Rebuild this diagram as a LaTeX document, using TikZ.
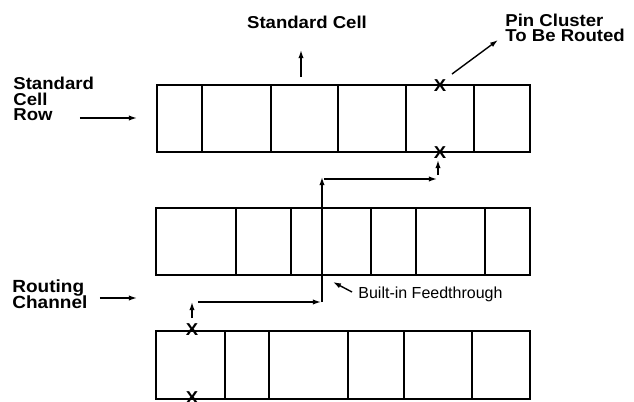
\documentclass[tikz,border=0pt]{standalone}
\usepackage{fontspec}
\setmainfont{Liberation Sans}
\newfontfamily\lblfont{Liberation Sans}[FakeStretch=1.08]
\usetikzlibrary{arrows.meta}
\begin{document}
\begin{tikzpicture}[x=0.5pt,y=-0.5pt,
  cellrow/.style={draw,line width=0.85pt},
  conn/.style={line width=0.7pt,-{Latex[length=4pt,width=2.6pt]}},
  lbl/.style={font=\lblfont\bfseries\fontsize{8.6}{7.75}\selectfont,align=left,inner sep=0pt},
  pinlbl/.style={font=\lblfont\bfseries\fontsize{8.6}{7.1}\selectfont,align=left,inner sep=0pt},
  chlbl/.style={font=\lblfont\bfseries\fontsize{8.8}{8.4}\selectfont,align=left,inner sep=0pt},
  xmark/.style={font=\lblfont\bfseries\fontsize{8.6}{8.6}\selectfont,inner sep=0pt},
  small/.style={font=\fontsize{8}{8}\selectfont,inner sep=0pt}]
\useasboundingbox (0,0) rectangle (634,402);

% rows of standard cells
\draw[cellrow] (157,85) rectangle (530,152);
\foreach \x in {202,271,338,406,474} \draw[cellrow] (\x,85) -- (\x,152);
\draw[cellrow] (156,208) rectangle (530,275);
\foreach \x in {236,291,371,416,485} \draw[cellrow] (\x,208) -- (\x,275);
\draw[cellrow] (156,331) rectangle (530,399);
\foreach \x in {225,269,348,404,472} \draw[cellrow] (\x,331) -- (\x,399);

% pins
\node[xmark] (xa) at (440,86) {X};
\node[xmark] (xb) at (440,153) {X};
\node[xmark] (xc) at (192,330) {X};
\node[xmark] (xd) at (192,398) {X};

% labels
\node[lbl,anchor=north] (sc) at (307,16) {Standard Cell};
\node[pinlbl,anchor=north west] (pc) at (505,14) {Pin Cluster\\To Be Routed};
\node[lbl,anchor=north west] (scr) at (13,77) {Standard\\Cell\\Row};
\node[chlbl,anchor=north west] (rc) at (12,279) {Routing\\Channel};
\node[small,anchor=base west] (bf) at (358,298) {Built-in Feedthrough};

% label arrows
\coordinate (scA) at (301,77); \coordinate (scB) at (301,50);
\draw[conn] (scA) -- (scB);
\coordinate (pcA) at (452,74); \coordinate (pcB) at (498,40);
\draw[conn] (pcA) -- (pcB);
\coordinate (srA) at (80,118); \coordinate (srB) at (137,118);
\draw[conn] (srA) -- (srB);
\coordinate (rcA) at (100,298); \coordinate (rcB) at (137,298);
\draw[conn] (rcA) -- (rcB);
\coordinate (bfA) at (352,292); \coordinate (bfB) at (333,282);
\draw[conn] (bfA) -- (bfB);

% route
\coordinate (r1) at (192,318); \coordinate (r2) at (192,302);
\coordinate (r3) at (198,302); \coordinate (r4) at (321,302);
\coordinate (r5) at (322,302); \coordinate (r6) at (322,177);
\coordinate (r7) at (324,179); \coordinate (r8) at (437,179);
\coordinate (r9) at (438,175); \coordinate (r10) at (438,160);
\draw[conn] (r1) -- (r2);
\draw[conn] (r3) -- (r4);
\draw[conn] (r5) -- (r6);
\draw[conn] (r7) -- (r8);
\draw[conn] (r9) -- (r10);
\end{tikzpicture}
\end{document}
